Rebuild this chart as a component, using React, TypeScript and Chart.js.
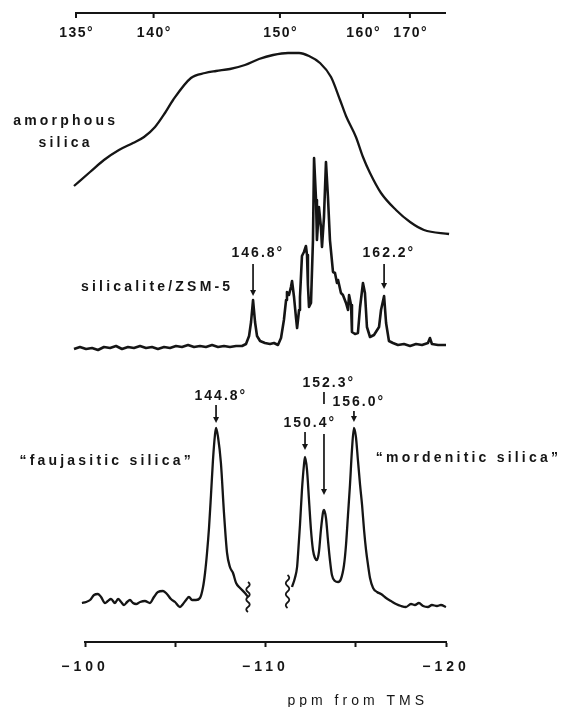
import { useEffect, useRef } from 'react';
import { Chart, registerables } from 'chart.js';

Chart.register(...registerables);

const INK = '#151515';
const FONT = '"Liberation Sans", Arial, Helvetica, sans-serif';

// 29Si chemical shift axis (ppm from TMS)
const PPM_TICKS = [-100, -105, -110, -115, -120];
const PPM_TICK_LABELS = ['\u2212100', '', '\u2212110', '', '\u2212120'];
const AXIS_TITLE = 'ppm from TMS';

// mean Si–O–Si angle scale along the top, and the shift each angle tick sits at
const ANGLE_LABELS = ['135°', '140°', '150°', '160°', '170°'];
const ANGLE_TICK_PPM = [-99.5, -103.8, -110.8, -115.4, -118.0];
const ANGLE_SCALE_END_PPM = -120;

// amorphous silica: shift (ppm) and intensity (arb. units)
const AMORPHOUS_PPM = [
  -99.39, -100.28, -101.05, -101.88, -102.66, -103.27, -103.88, -104.43, -104.88, -105.87,
  -106.65, -107.26, -108.03, -108.86, -109.64, -110.42, -111.25, -111.86, -112.41, -113.02,
  -113.63, -114.13, -114.46, -115.01, -115.4, -115.79, -116.4, -117.23, -118.01, -118.78, -120.17,
];
const AMORPHOUS_INT = [
  5.4, 6.8, 8.0, 9.0, 9.7, 10.3, 11.3, 12.7, 14.0, 16.2,
  16.7, 16.9, 17.1, 17.5, 18.1, 18.5, 18.7, 18.7, 18.4, 17.7,
  16.3, 14.0, 12.4, 10.3, 8.3, 6.7, 4.7, 3.0, 1.8, 1.0, 0.6,
];

// silicalite / ZSM-5
const SILICALITE_PPM = [
  -99.39, -99.72, -100.06, -100.39, -100.72, -101.05, -101.39, -101.72, -102.05, -102.38,
  -102.71, -103.05, -103.38, -103.71, -104.04, -104.38, -104.71, -105.04, -105.37, -105.71,
  -106.04, -106.37, -106.7, -107.04, -107.37, -107.7, -108.03, -108.37, -108.7, -108.92,
  -109.09, -109.2, -109.31, -109.42, -109.53, -109.7, -109.97, -110.25, -110.47, -110.69,
  -110.86, -111.02, -111.14, -111.19, -111.3, -111.41, -111.47, -111.58, -111.69, -111.75,
  -111.86, -111.91, -112.02, -112.13, -112.24, -112.3, -112.35, -112.41, -112.52, -112.63,
  -112.69, -112.8, -112.85, -112.91, -112.96, -113.07, -113.13, -113.24, -113.35, -113.46,
  -113.57, -113.74, -113.85, -113.96, -114.02, -114.18, -114.29, -114.46, -114.57, -114.63,
  -114.74, -114.79, -114.96, -115.12, -115.24, -115.4, -115.51, -115.62, -115.79, -116.01,
  -116.29, -116.4, -116.57, -116.68, -116.84, -117.06, -117.34, -117.67, -118.01, -118.34,
  -118.67, -119.0, -119.11, -119.22, -119.56, -120.0,
];
const SILICALITE_INT = [
  -0.1, 0.1, -0.1, 0, -0.2, 0.1, 0, 0.2, -0.1, 0.1,
  0, 0.2, 0, 0.1, -0.1, 0.1, 0, 0.2, 0.1, 0.3,
  0.1, 0.2, 0.1, 0.3, 0.1, 0.2, 0.1, 0.2, 0.2, 0.4,
  1.2, 2.6, 4.8, 2.6, 1.2, 0.7, 0.5, 0.4, 0.5, 0.3,
  1.0, 2.8, 4.8, 5.6, 5.3, 6.1, 6.7, 5.1, 3.0, 2.0,
  3.8, 5.1, 9.2, 9.6, 10.2, 9.3, 6.3, 4.1, 4.5, 10.8,
  19.0, 14.8, 10.8, 12.5, 14.1, 12.1, 10.1, 13.1, 18.6, 15.1,
  10.8, 7.6, 7.5, 6.5, 6.8, 5.5, 5.3, 4.5, 3.8, 5.3,
  4.3, 1.6, 1.4, 1.5, 4.1, 6.5, 5.5, 2.1, 1.1, 1.3,
  2.1, 3.8, 5.2, 2.5, 0.7, 0.5, 0.3, 0.4, 0.2, 0.4,
  0.3, 0.5, 1.0, 0.4, 0.3, 0.3,
];

// "faujasitic silica" (dealuminated Y)
const FAUJASITIC_PPM = [
  -99.83, -100.06, -100.28, -100.5, -100.72, -100.89, -101.11, -101.27, -101.44, -101.66,
  -101.83, -102.0, -102.16, -102.33, -102.49, -102.66, -102.83, -103.05, -103.32, -103.6,
  -103.82, -104.04, -104.32, -104.54, -104.76, -104.99, -105.26, -105.43, -105.6, -105.76,
  -105.93, -106.15, -106.37, -106.54, -106.65, -106.76, -106.87, -106.98, -107.09, -107.2,
  -107.26, -107.37, -107.53, -107.7, -107.87, -108.03, -108.2, -108.37, -108.59, -108.86, -109.03,
];
const FAUJASITIC_INT = [
  0.0, 0.1, 0.3, 0.8, 0.9, 0.6, 0.0, 0.2, 0.4, 0.0,
  0.4, 0.1, -0.2, 0.1, 0.3, 0.0, -0.1, 0.1, 0.2, 0.0,
  0.6, 1.1, 1.2, 0.9, 0.4, 0.1, -0.4, -0.1, 0.3, 0.6,
  0.3, 0.3, 0.5, 1.6, 3.0, 5.0, 7.5, 10.8, 14.3, 16.8,
  17.5, 16.6, 14.0, 9.0, 5.0, 3.6, 3.0, 2.0, 1.5, 1.0, 0.6,
];

// "mordenitic silica" (dealuminated mordenite)
const MORDENITIC_PPM = [
  -111.47, -111.63, -111.75, -111.8, -111.91, -112.02, -112.13, -112.19, -112.3, -112.41,
  -112.52, -112.63, -112.74, -112.85, -112.96, -113.07, -113.19, -113.24, -113.35, -113.46,
  -113.57, -113.68, -113.85, -114.02, -114.18, -114.35, -114.46, -114.57, -114.68, -114.79,
  -114.9, -115.01, -115.12, -115.24, -115.35, -115.46, -115.57, -115.68, -115.79, -115.96,
  -116.18, -116.4, -116.68, -116.95, -117.23, -117.51, -117.78, -118.06, -118.28, -118.5,
  -118.73, -119.0, -119.22, -119.5, -119.72, -120.0,
];
const MORDENITIC_INT = [
  1.6, 2.5, 3.6, 4.8, 7.8, 11.3, 13.8, 14.6, 13.3, 10.3,
  7.3, 5.3, 4.5, 4.3, 5.1, 7.3, 9.1, 9.3, 8.5, 6.3,
  4.3, 2.8, 2.2, 2.1, 2.4, 3.8, 5.8, 8.8, 11.8, 15.3,
  17.5, 16.6, 14.3, 11.8, 9.8, 7.3, 5.3, 3.8, 2.5, 1.5,
  1.1, 0.9, 0.5, 0.2, -0.1, -0.3, -0.4, -0.1, -0.2, 0.0,
  -0.3, -0.4, -0.2, -0.3, -0.2, -0.4,
];

// Si–O–Si angles assigned to individual resonances
const PEAK_LABELS = ['146.8°', '162.2°', '144.8°', '150.4°', '152.3°', '156.0°'];
const PEAK_PPM = [-109.31, -116.57, -107.26, -112.19, -113.24, -114.9];

// vertical stacking of the three spectra (same units as the intensities)
const Y_MAX = 62.9;
const AMORPHOUS_OFFSET = 40.2;
const SILICALITE_OFFSET = 29.4;
const ZEOLITE_OFFSET = 3.9;

// label height and arrow shaft segments [from, to] for each assignment, in y units
const PEAK_LAYOUT = [
  { labelY: 38.9, shaft: [[37.8, 34.6]] },
  { labelY: 38.9, shaft: [[37.8, 35.3]] },
  { labelY: 24.6, shaft: [[23.7, 21.9]] },
  { labelY: 21.9, shaft: [[21.0, 19.2]] },
  { labelY: 25.9, shaft: [[25.0, 23.8], [20.8, 14.7]] },
  { labelY: 24.0, shaft: [[23.1, 22.0]] },
];

// spectrum names and where they are written (ppm, y units, alignment)
const SERIES_NAMES = [
  { lines: ['amorphous', 'silica'], ppm: -98.84, y: [52.1, 49.9], align: 'center' },
  { lines: ['silicalite/ZSM-5'], ppm: -103.91, y: [35.5], align: 'center' },
  { lines: ['\u201Cfaujasitic silica\u201D'], ppm: -101.11, y: [18.1], align: 'center' },
  { lines: ['\u201Cmordenitic silica\u201D'], ppm: -126.2, y: [18.4], align: 'right' },
];

// where the zeolite trace is interrupted: ppm and y extent
const BREAK_MARKS = [
  { ppm: -109.03, from: 6.0, to: 3.0 },
  { ppm: -111.22, from: 6.7, to: 3.4 },
];

function toPoints(ppm: number[], intensity: number[], offset: number) {
  return ppm.map((p, i) => ({ x: p, y: intensity[i] + offset }));
}

function spacedText(
  ctx: CanvasRenderingContext2D,
  text: string,
  x: number,
  y: number,
  spacing: number,
  align: string,
) {
  const widthOf = (t: string) => {
    (ctx as any).letterSpacing = '0px';
    return ctx.measureText(t).width + spacing * Math.max(0, [...t].length - 1);
  };
  let left = x;
  if (align === 'center') left = x - widthOf(text) / 2;
  else if (align === 'right') left = x - widthOf(text);
  else if (align === 'number') left = x - widthOf(text.replace('°', '')) / 2;
  (ctx as any).letterSpacing = `${spacing}px`;
  ctx.textAlign = 'left';
  ctx.fillText(text, left, y);
  (ctx as any).letterSpacing = '0px';
}

function squiggle(ctx: CanvasRenderingContext2D, x: number, y0: number, y1: number) {
  const n = 6;
  const h = (y1 - y0) / n;
  ctx.beginPath();
  ctx.moveTo(x, y0);
  for (let i = 0; i < n; i++) {
    const s = i % 2 === 0 ? 1 : -1;
    ctx.quadraticCurveTo(x + s * 3.5, y0 + h * (i + 0.5), x, y0 + h * (i + 1));
  }
  ctx.stroke();
}

const figurePlugin = {
  id: 'nmrFigure',
  beforeDraw(chart: any) {
    // wide tracking for the shift tick labels drawn by the scale
    chart.ctx.letterSpacing = '4px';
  },
  beforeDatasetsDraw(chart: any) {
    chart.ctx.letterSpacing = '0px';
  },
  afterDraw(chart: any) {
    const ctx: CanvasRenderingContext2D = chart.ctx;
    const xs = chart.scales.x;
    const ys = chart.scales.y;
    const px = (v: number) => xs.getPixelForValue(v);
    const py = (v: number) => ys.getPixelForValue(v);
    const top = chart.chartArea.top;

    ctx.save();
    ctx.strokeStyle = INK;
    ctx.fillStyle = INK;
    ctx.lineCap = 'butt';

    // angle scale
    ctx.lineWidth = 2;
    ctx.beginPath();
    ctx.moveTo(px(ANGLE_TICK_PPM[0]), top);
    ctx.lineTo(px(ANGLE_SCALE_END_PPM), top);
    ctx.stroke();
    ANGLE_TICK_PPM.forEach((v) => {
      ctx.beginPath();
      ctx.moveTo(px(v), top - 1);
      ctx.lineTo(px(v), top + 5);
      ctx.stroke();
    });
    ctx.font = `bold 14px ${FONT}`;
    ctx.textBaseline = 'middle';
    ANGLE_LABELS.forEach((t, i) => spacedText(ctx, t, px(ANGLE_TICK_PPM[i]), top + 20, 1.5, 'center'));

    // break marks in the zeolite trace
    ctx.lineWidth = 1.8;
    BREAK_MARKS.forEach((b) => squiggle(ctx, px(b.ppm), py(b.from), py(b.to)));

    // peak assignments with arrows
    ctx.font = `bold 14px ${FONT}`;
    PEAK_LABELS.forEach((t, i) => {
      const x = px(PEAK_PPM[i]);
      const lay = PEAK_LAYOUT[i];
      spacedText(ctx, t, x, py(lay.labelY), 2, 'number');
      ctx.lineWidth = 1.7;
      lay.shaft.forEach(([a, b], k) => {
        const last = k === lay.shaft.length - 1;
        const y0 = py(a);
        const y1 = py(b);
        ctx.beginPath();
        ctx.moveTo(x, y0);
        ctx.lineTo(x, last ? y1 - 4 : y1);
        ctx.stroke();
        if (last) {
          ctx.beginPath();
          ctx.moveTo(x - 3, y1 - 6);
          ctx.lineTo(x + 3, y1 - 6);
          ctx.lineTo(x, y1);
          ctx.closePath();
          ctx.fill();
        }
      });
    });

    // spectrum names
    ctx.font = `bold 14px ${FONT}`;
    SERIES_NAMES.forEach((s) => {
      s.lines.forEach((line, k) => spacedText(ctx, line, px(s.ppm), py(s.y[k]), 3.2, s.align));
    });

    // axis title
    ctx.font = `14px ${FONT}`;
    ctx.textBaseline = 'alphabetic';
    spacedText(ctx, AXIS_TITLE, px(-115), xs.bottom - 2, 4, 'center');

    ctx.restore();
  },
};

export default function App() {
  const canvasRef = useRef<HTMLCanvasElement | null>(null);

  useEffect(() => {
    const canvas = canvasRef.current;
    if (!canvas) return;
    const line = (label: string, data: { x: number; y: number }[], extra: object) => ({
      label,
      data,
      borderColor: INK,
      borderWidth: 2.3,
      pointRadius: 0,
      fill: false,
      clip: false as const,
      ...extra,
    });

    const chart = new Chart(canvas, {
      type: 'line',
      data: {
        datasets: [
          line('amorphous silica', toPoints(AMORPHOUS_PPM, AMORPHOUS_INT, AMORPHOUS_OFFSET), {
            cubicInterpolationMode: 'monotone',
          }),
          line('silicalite/ZSM-5', toPoints(SILICALITE_PPM, SILICALITE_INT, SILICALITE_OFFSET), {
            tension: 0,
            borderWidth: 2.6,
            borderJoinStyle: 'round',
          }),
          line('faujasitic silica', toPoints(FAUJASITIC_PPM, FAUJASITIC_INT, ZEOLITE_OFFSET), {
            cubicInterpolationMode: 'monotone',
          }),
          line('mordenitic silica', toPoints(MORDENITIC_PPM, MORDENITIC_INT, ZEOLITE_OFFSET), {
            cubicInterpolationMode: 'monotone',
          }),
        ],
      },
      options: {
        animation: false,
        responsive: true,
        maintainAspectRatio: false,
        devicePixelRatio: 1,
        layout: { padding: { top: 13, left: 85, right: 115, bottom: 0 } },
        plugins: { legend: { display: false }, tooltip: { enabled: false }, title: { display: false } },
        events: [],
        scales: {
          x: {
            type: 'linear',
            position: 'bottom',
            min: -120,
            max: -100,
            reverse: true,
            afterBuildTicks: (scale: any) => {
              scale.ticks = PPM_TICKS.map((v) => ({ value: v }));
            },
            afterFit: (scale: any) => {
              scale.height = 65;
            },
            grid: {
              display: true,
              drawOnChartArea: false,
              drawTicks: true,
              tickLength: 5,
              tickWidth: 2,
              tickColor: INK,
              color: INK,
            },
            border: { display: true, color: INK, width: 2 },
            ticks: {
              padding: 12,
              color: INK,
              autoSkip: false,
              maxRotation: 0,
              font: { family: FONT, size: 14, weight: 'bold' },
              callback: (value: any) => {
                const i = PPM_TICKS.indexOf(Number(value));
                return i >= 0 ? PPM_TICK_LABELS[i] : '';
              },
            },
          },
          y: { display: false, min: 0, max: Y_MAX },
        },
      },
      plugins: [figurePlugin],
    });

    return () => chart.destroy();
  }, []);

  return (
    <div style={{ position: 'fixed', left: 0, top: 0, width: 561, height: 707, background: '#fff' }}>
      <canvas ref={canvasRef} />
    </div>
  );
}
